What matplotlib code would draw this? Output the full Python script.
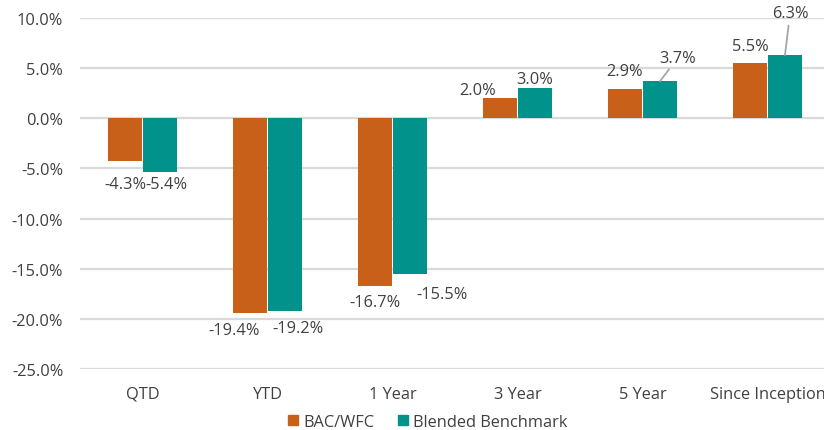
import matplotlib
matplotlib.use("Agg")
import matplotlib.pyplot as plt
import numpy as np
from matplotlib.patches import Patch

categories = ["QTD", "YTD", "1 Year", "3 Year", "5 Year", "Since Inception"]
bac_wfc = [-4.3, -19.4, -16.7, 2.0, 2.9, 5.5]
blended = [-5.4, -19.2, -15.5, 3.0, 3.7, 6.3]
series_names = ["BAC/WFC", "Blended Benchmark"]
yticks = [10, 5, 0, -5, -10, -15, -20, -25]

plt.rcParams['font.family'] = ['Open Sans', 'DejaVu Sans']
txt = '#404040'
c_or = '#C8601A'
c_te = '#00928B'
fs = 11.8

fig = plt.figure(figsize=(8.24, 4.31), dpi=100)
ax = fig.add_axes([80/824, 61/431, 750/824, 351/431])
x = np.arange(len(categories))
w = 0.27
off = 0.14
ax.bar(x - off, bac_wfc, w, color=c_or, zorder=3)
ax.bar(x + off, blended, w, color=c_te, zorder=3)

ax.set_xlim(-0.5, 5.5)
ax.set_ylim(-25, 10)
ax.set_yticks(yticks)
ax.set_yticklabels([f"{v:.1f}%" for v in yticks], fontsize=fs, color=txt)
ax.set_xticks(x)
ax.set_xticklabels(categories, fontsize=fs, color=txt)
ax.tick_params(axis='both', length=0)
ax.tick_params(axis='y', pad=12)
ax.tick_params(axis='x', pad=12)
for s in ax.spines.values():
    s.set_visible(False)
ax.grid(axis='y', color='#D9D9D9', linewidth=1.6, zorder=0)

# label offsets in points (dx, dy) relative to bar end
off1 = [(0, -16.5), (-11.5, -12), (0, -12), (-16, 6), (0, 13), (0, 12)]
off2 = [(4.7, -8.6), (9.4, -12), (23, -14.4), (0, 6.5), (13, 17), (3.6, 30)]
leader2 = [False, False, False, False, True, True]
for i in range(len(categories)):
    v = bac_wfc[i]
    ax.annotate(f"{v:.1f}%", xy=(x[i] - off, v), xytext=off1[i], textcoords='offset points',
                ha='center', va='center', fontsize=fs, color=txt, zorder=5)
    v = blended[i]
    kw = {}
    if leader2[i]:
        kw['arrowprops'] = dict(arrowstyle='-', color='#A6A6A6', lw=1.3, shrinkA=1, shrinkB=0)
    ax.annotate(f"{v:.1f}%", xy=(x[i] + off, v), xytext=off2[i], textcoords='offset points',
                ha='center', va='center', fontsize=fs, color=txt, zorder=5, **kw)

handles = [Patch(color=c_or), Patch(color=c_te)]
fig.legend(handles, series_names, loc='center', bbox_to_anchor=(428/824, 1 - 423/431),
           ncol=2, frameon=False, fontsize=fs, handlelength=0.6, handleheight=0.6,
           handletextpad=0.35, columnspacing=1.4, labelcolor=txt)

fig.savefig("out.png", dpi=100)
